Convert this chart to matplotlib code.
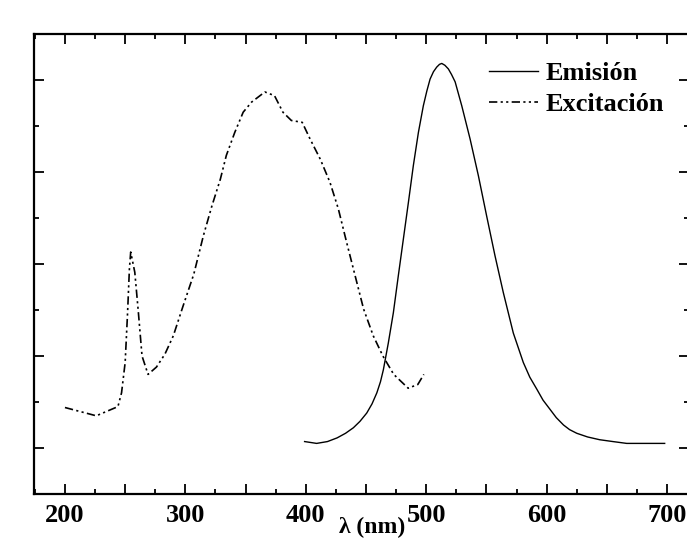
import matplotlib
matplotlib.use("Agg")
import matplotlib.pyplot as plt
from matplotlib.ticker import MultipleLocator, FuncFormatter

# Excitation spectrum
exc_nm = [200, 226, 244, 247, 250, 252, 253.5, 254.6, 258, 261, 264, 269, 276, 283, 290, 298,
          307, 315, 322, 329, 334, 341, 348, 355, 366, 374, 381, 388, 397, 403.5, 412,
          420, 427, 434, 441, 448, 456, 464, 473, 485, 493, 498]
exc_val = [0.44, 0.35, 0.45, 0.60, 0.93, 1.47, 1.94, 2.13, 1.91, 1.47, 1.00, 0.80, 0.88, 1.02,
           1.22, 1.54, 1.89, 2.31, 2.63, 2.92, 3.18, 3.43, 3.65, 3.76, 3.87, 3.83, 3.65, 3.56,
           3.54, 3.36, 3.14, 2.89, 2.60, 2.23, 1.87, 1.51, 1.22, 1.00, 0.80, 0.65, 0.69, 0.80]

# Emission spectrum
em_nm = [399, 409, 418, 426, 433, 439.5, 445, 450.6, 455, 459, 462, 464.4, 468.5, 472.7, 476.8,
         481, 485.2, 489.3, 493.5, 497.6, 500.5, 503.2, 506, 508.7, 511, 512.9, 515.5, 518.4,
         521, 524, 529.5, 536.4, 543.3, 550.2, 557.1, 564, 572.3, 580.6, 586, 591.8, 597,
         602.8, 608, 614, 619, 625, 634, 644, 655, 666.5, 683, 698]
em_val = [0.07, 0.05, 0.07, 0.11, 0.16, 0.22, 0.29, 0.38, 0.48, 0.60, 0.72, 0.85, 1.14, 1.47, 1.87,
          2.27, 2.67, 3.07, 3.43, 3.72, 3.88, 4.01, 4.09, 4.14, 4.17, 4.18, 4.16, 4.12,
          4.06, 3.98, 3.72, 3.36, 2.96, 2.52, 2.09, 1.69, 1.25, 0.93, 0.77, 0.64, 0.52,
          0.42, 0.33, 0.25, 0.20, 0.16, 0.12, 0.09, 0.07, 0.05, 0.05, 0.05]

plt.rcParams['font.family'] = 'Liberation Serif'
plt.rcParams['font.weight'] = 'bold'

fig = plt.figure(figsize=(6.87, 5.48), dpi=100)
ax = fig.add_axes([34 / 687, 1 - 494 / 548, 655 / 687, 460 / 548])

ax.plot(em_nm, em_val, color='black', lw=1.0, label='Emisión')
ax.plot(exc_nm, exc_val, color='black', lw=1.2,
        linestyle=(0, (5, 2, 1.3, 2, 1.3, 2)), label='Excitación')

ax.set_xlim(174.3, 718.2)
ax.set_ylim(-0.5, 4.5)

ax.xaxis.set_major_locator(MultipleLocator(50))
ax.xaxis.set_minor_locator(MultipleLocator(25))
ax.xaxis.set_major_formatter(FuncFormatter(lambda v, p: f"{v:.0f}" if round(v) % 100 == 0 else ""))
ax.yaxis.set_major_locator(MultipleLocator(1))
ax.yaxis.set_minor_locator(MultipleLocator(0.5))
ax.yaxis.set_major_formatter(FuncFormatter(lambda v, p: ""))

ax.tick_params(which='both', direction='in', top=True, right=True, width=1.3)
ax.tick_params(which='major', length=7)
ax.tick_params(which='minor', length=3.5)
ax.tick_params(axis='x', labelsize=19, pad=7)
for s in ax.spines.values():
    s.set_linewidth(1.6)

ax.set_xlabel('λ (nm)', fontsize=17, fontweight='bold')
ax.xaxis.set_label_coords((372 - 34) / 655, -0.05)

ax.legend(loc='upper left', bbox_to_anchor=((489 - 34) / 655, (494 - 62) / 460), frameon=False,
          fontsize=19, handlelength=1.85, handletextpad=0.3, labelspacing=0.28,
          borderpad=0.0, borderaxespad=0.0)

fig.savefig('out.png', dpi=100)
